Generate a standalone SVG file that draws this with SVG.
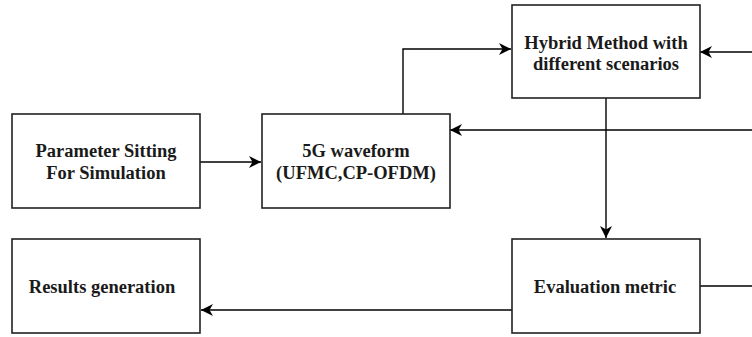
<svg xmlns="http://www.w3.org/2000/svg" width="752" height="337" viewBox="0 0 752 337">
<defs>
<style>
.box{fill:#ffffff;stroke:#222222;stroke-width:1.6}
.lbl{font-family:"Liberation Serif","Times New Roman",serif;font-weight:bold;font-size:18.5px;fill:#1a1a1a;text-anchor:middle}
.edge{fill:none;stroke:#000000;stroke-width:1.4}
</style>
<marker id="arr" markerUnits="userSpaceOnUse" markerWidth="16" markerHeight="14" refX="12" refY="6" orient="auto">
<path d="M0,0 L12,6 L0,12 L3.5,6 Z" fill="#000000"/>
</marker>
</defs>
<rect width="752" height="337" fill="#ffffff"/>
<g id="connectors">
<path class="edge" d="M200,162 L261,162" marker-end="url(#arr)"/>
<path class="edge" d="M403,114 L403,49 L511,49" marker-end="url(#arr)"/>
<path class="edge" d="M752,52 L700,52" marker-end="url(#arr)"/>
<path class="edge" d="M752,130 L450,130" marker-end="url(#arr)"/>
<path class="edge" d="M606,98 L606,238" marker-end="url(#arr)"/>
<path class="edge" d="M700,286 L752,286"/>
<path class="edge" d="M512,310 L201,310" marker-end="url(#arr)"/>
</g>
<g id="param">
<rect class="box" x="12" y="114" width="188" height="94"/>
<text class="lbl" x="106" y="157">Parameter Sitting</text>
<text class="lbl" x="106" y="178.5">For Simulation</text>
</g>
<g id="waveform">
<rect class="box" x="262" y="114" width="188" height="94"/>
<text class="lbl" x="356" y="157">5G waveform</text>
<text class="lbl" x="356" y="178.5">(UFMC,CP-OFDM)</text>
</g>
<g id="hybrid">
<rect class="box" x="512" y="5" width="188" height="93"/>
<text class="lbl" x="606" y="48.5">Hybrid Method with</text>
<text class="lbl" x="606" y="70">different scenarios</text>
</g>
<g id="results">
<rect class="box" x="12" y="239" width="188" height="94"/>
<text class="lbl" x="102" y="292.5">Results generation</text>
</g>
<g id="evaluation">
<rect class="box" x="512" y="239" width="188" height="94"/>
<text class="lbl" x="605" y="292.5">Evaluation metric</text>
</g>
</svg>
